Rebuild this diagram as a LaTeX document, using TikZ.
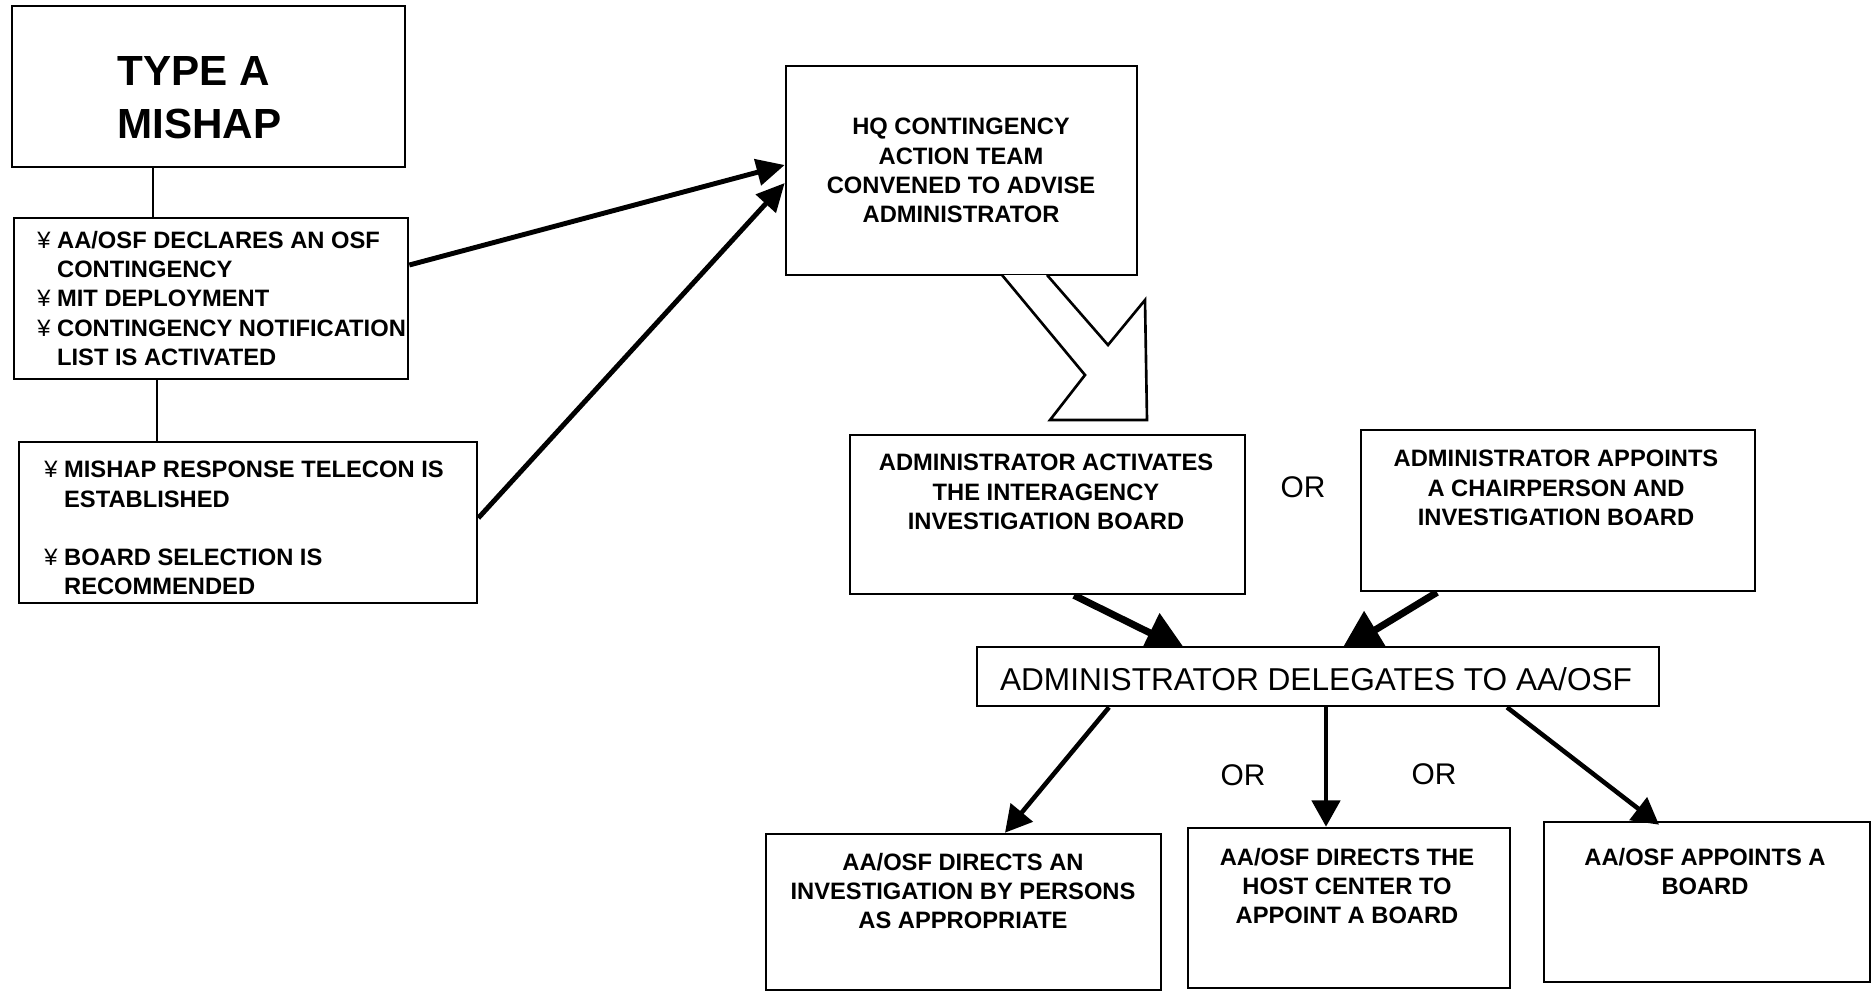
\documentclass[tikz,border=0pt]{standalone}
\usepackage{fontspec}
\setmainfont{Liberation Sans}
\usetikzlibrary{calc,arrows.meta,fit,backgrounds}
\newcommand{\yenitem}{{\mdseries ¥}\ }
\newcommand{\yenskip}{\hphantom{\yenitem}}

\begin{document}
\begin{tikzpicture}[x=0.02cm,y=-0.02cm,
  box/.style={draw,line width=1.5pt,fill=white,inner sep=0pt},
  boldtext/.style={font=\bfseries\fontsize{13.5}{16.6}\selectfont},
  lbl/.style={boldtext,inner sep=0pt,align=center,anchor=north},
  bullets/.style={boldtext,inner sep=0pt,align=left,anchor=north west},
  orword/.style={inner sep=0pt,font=\fontsize{17}{20}\selectfont},
  link/.style={line width=1.5pt},
  feed/.style={line width=2.8pt,-{Triangle[length=16pt,width=15pt]}},
  merge/.style={line width=4pt,-{Triangle[length=23pt,width=24pt]}},
  split/.style={line width=2.6pt,-{Triangle[length=15pt,width=16pt]}}]
\useasboundingbox (0,0) rectangle (1875,992);

% left column
\node (typea) [box,fit={(12,6) (405,167)}] {};
\node (typea-t) at (117,56) [inner sep=0pt,align=left,anchor=north west,font=\bfseries\fontsize{24}{30}\selectfont] {TYPE A\\MISHAP};
\node (declare) [box,fit={(14,218) (408,379)}] {};
\node (declare-t) at (37,231) [bullets] {\yenitem AA/OSF DECLARES AN OSF\\\yenskip CONTINGENCY\\\yenitem MIT DEPLOYMENT\\\yenitem CONTINGENCY NOTIFICATION\\\yenskip LIST IS ACTIVATED};
\node (telecon) [box,fit={(19,442) (477,603)}] {};
\node (telecon-t) at (44,461) [bullets] {\yenitem MISHAP RESPONSE TELECON IS\\\yenskip ESTABLISHED\\[16.6pt]\yenitem BOARD SELECTION IS\\\yenskip RECOMMENDED};
\draw[link] (153,0 |- typea.south) -- (153,0 |- declare.north);
\draw[link] (157,0 |- declare.south) -- (157,0 |- telecon.north);

% headquarters
\node (hq) [box,fit={(786,66) (1137,275)}] {};
\node (hq-t) at (961,118) [lbl] {HQ CONTINGENCY\\ACTION TEAM\\CONVENED TO ADVISE\\ADMINISTRATOR};
\draw[feed] (declare.east |- 0,265) -- (hq.west |- 0,165);
\draw[feed] (telecon.east |- 0,518) -- (hq.west |- 0,183);
\draw[line width=1.5pt,fill=white] (1002,275) -- (1085,375) -- (1050,420) -- (1147,420)
  -- (1145,300) -- (1108,345) -- (1047,275);

% administrator
\node (activate) [box,fit={(850,435) (1245,594)}] {};
\node (activate-t) at (1046,454) [lbl] {ADMINISTRATOR ACTIVATES\\THE INTERAGENCY\\INVESTIGATION BOARD};
\node (appoint) [box,fit={(1361,430) (1755,591)}] {};
\node (appoint-t) at (1556,450) [lbl] {ADMINISTRATOR APPOINTS\\A CHAIRPERSON AND\\INVESTIGATION BOARD};
\node (or1) at (1303,487) [orword] {OR};
\node (delegate) [box,fit={(977,647) (1659,706)}] {};
\node (delegate-t) at (1316,667) [inner sep=0pt,anchor=north,font=\fontsize{18}{22}\selectfont] {ADMINISTRATOR DELEGATES TO AA/OSF};
\begin{scope}[on background layer]
\draw[merge] (1074,0 |- activate.south) -- ($(1186,0 |- delegate.north)+(0,5)$);
\draw[merge] (1437,0 |- appoint.south) -- ($(1341,0 |- delegate.north)+(0,5)$);
\end{scope}

% AA/OSF options
\node (persons) [box,fit={(766,834) (1161,990)}] {};
\node (persons-t) at (963,853) [lbl] {AA/OSF DIRECTS AN\\INVESTIGATION BY PERSONS\\AS APPROPRIATE};
\node (hostctr) [box,fit={(1188,828) (1510,988)}] {};
\node (hostctr-t) at (1347,848) [lbl] {AA/OSF DIRECTS THE\\HOST CENTER TO\\APPOINT A BOARD};
\node (aaboard) [box,fit={(1544,822) (1870,982)}] {};
\node (aaboard-t) at (1705,848) [lbl] {AA/OSF APPOINTS A\\BOARD};
\node (or2) at (1243,775) [orword] {OR};
\node (or3) at (1434,774) [orword] {OR};
\draw[split] (1109,0 |- delegate.south) -- (1005,0 |- persons.north);
\draw[split] (1326,0 |- delegate.south) -- (1326,0 |- hostctr.north);
\draw[split] (1507,0 |- delegate.south) -- ($(1659,0 |- aaboard.north)+(0,4)$);
\end{tikzpicture}
\end{document}
